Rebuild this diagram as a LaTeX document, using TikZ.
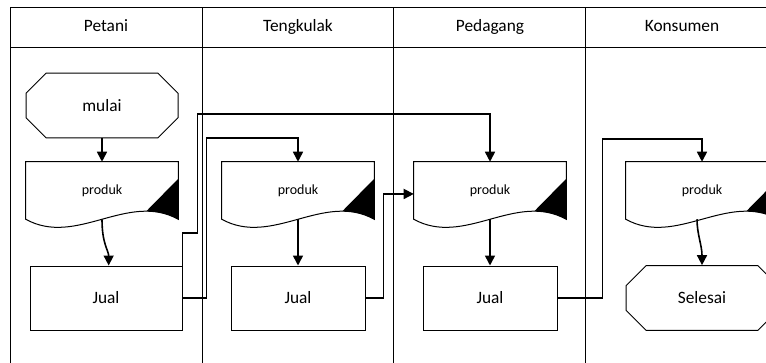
\documentclass[tikz,border=0pt]{standalone}
\usepackage{fontspec}
\setmainfont{Carlito}
\usetikzlibrary{arrows.meta,shapes.misc}
\tikzset{>={Triangle[width=7.5pt,length=7.5pt]}}
\tikzset{
  lane/.style={line width=0.75pt},
  flow/.style={->,line width=1.2pt},
  head/.style={font=\fontsize{13}{15}\selectfont,text height=9pt,text depth=3pt},
  jual/.style={draw,line width=0.75pt,minimum height=48pt,inner sep=0pt,font=\fontsize{13}{15}\selectfont},
  term/.style={draw,line width=0.75pt,chamfered rectangle,chamfered rectangle xsep=11pt,chamfered rectangle ysep=10.5pt,
    minimum width=114pt,minimum height=48.5pt,inner sep=0pt,font=\fontsize{13}{15}\selectfont},
  doc/.style={inner sep=0pt,minimum width=114pt,minimum height=42.75pt,font=\fontsize{10.5}{12}\selectfont}
}

\begin{document}
\begin{tikzpicture}[x=0.75pt,y=-0.75pt]
\useasboundingbox (0,0) rectangle (766,363);
\clip (0,0) rectangle (766,363);

% swimlanes
\draw[lane] (10,370) -- (10,8) -- (780,8);
\draw[lane] (10,48) -- (780,48);
\foreach \x in {202,393,585}
  \draw[lane] (\x,8) -- (\x,370);

\node[head] (h1) at (106,28) {Petani};
\node[head] (h2) at (298,28) {Tengkulak};
\node[head] (h3) at (490,28) {Pedagang};
\node[head] (h4) at (682,28) {Konsumen};

% terminators
\node[term] (mulai) at (102,105.5) {mulai};
\node[term] (sel) at (702,298) {Selesai};

% produk documents
\foreach \n/\x in {p1/102,p2/298,p3/490,p4/702}{
  \node[doc] (\n) at (\x,190.5) {produk};
  \begin{scope}
    \clip (\n.south west) -- (\n.north west) -- (\n.north east) -- (\n.south east)
      .. controls +(-50.7,-28) and +(50.7,28) .. (\n.south west) -- cycle;
    \fill ([yshift=-12.75pt]\n.north east) -- ([xshift=-24pt,yshift=6pt]\n.south east)
      -- ([xshift=-24pt,yshift=-20pt]\n.south east) -- ([yshift=-20pt]\n.south east) -- cycle;
  \end{scope}
  \draw[line width=0.75pt] (\n.south west) -- (\n.north west) -- (\n.north east) -- (\n.south east)
    .. controls +(-50.7,-28) and +(50.7,28) .. (\n.south west) -- cycle;
}

% jual
\node[jual,minimum width=114pt] (j1) at (106,298) {Jual};
\node[jual,minimum width=100.5pt] (j2) at (298,298) {Jual};
\node[jual,minimum width=100.5pt] (j3) at (490,298) {Jual};

% alur
\draw[flow] (mulai.south) -- (p1.north);
\draw[flow] (p1.south) .. controls +(0,25) and +(0,-15) .. ([xshift=2pt]j1.north);
\draw[flow] (p2.south) -- (j2.north);
\draw[flow] (p3.south) -- (j3.north);
\draw[flow] ([xshift=-3.75pt]p4.south) .. controls +(0,15) and +(0,-20) .. (sel.north);

\draw[flow] (j1.east) -- ++(24,0) |- ([yshift=18pt]p2.north) -- (p2.north);
\draw[flow] (j1.east) -- ++(0,-65) -- ++(15,0) |- ([yshift=36pt]p3.north) -- (p3.north);
\draw[flow] (j2.east) -- ++(18,0) |- ([yshift=-2.6pt]p3.west);
\draw[flow] (j3.east) -- ++(45,0) |- ([yshift=17.25pt]p4.north) -- (p4.north);
\end{tikzpicture}
\end{document}
